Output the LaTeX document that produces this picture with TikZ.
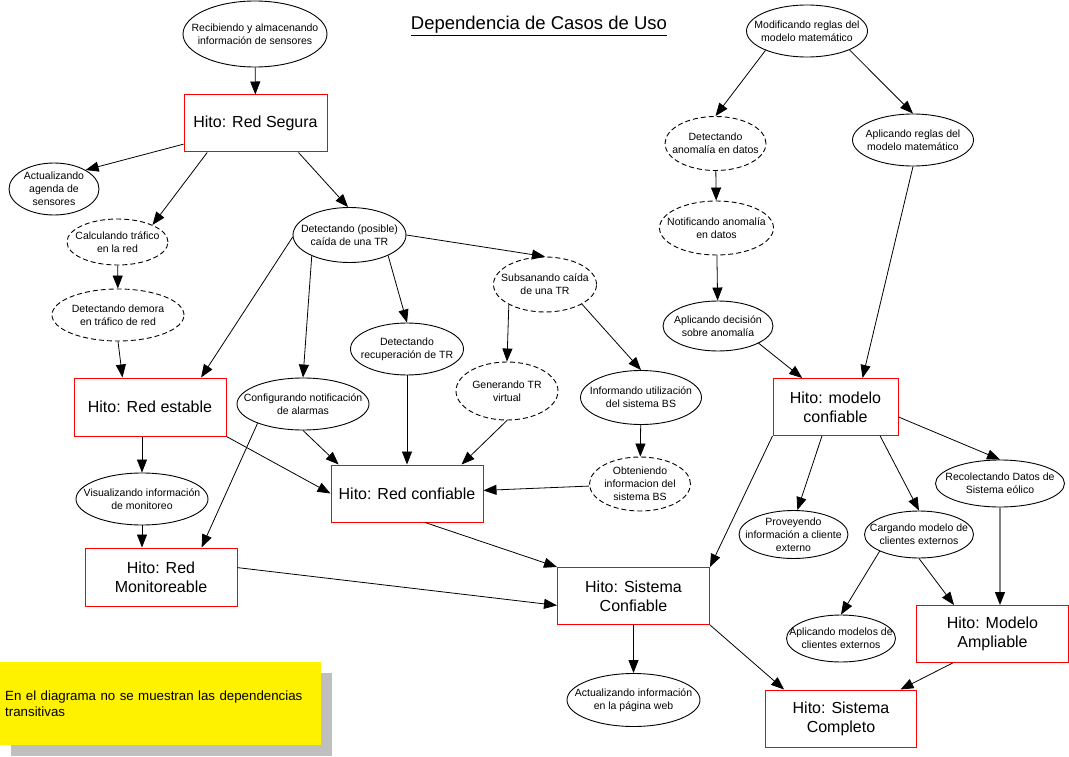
\documentclass[tikz,border=0pt]{standalone}
\usepackage{fontspec}
\setmainfont{Liberation Sans}
\usetikzlibrary{arrows.meta,shapes.geometric,shadows}

\newcommand{\chico}{\fontsize{10.5}{13}\selectfont}
\newcommand{\grande}{\fontsize{16}{19}\selectfont}

\begin{document}
\begin{tikzpicture}[
    x=1pt, y=-1pt,
    >={Triangle[length=13pt,width=10pt]},
    caso/.style={ellipse, draw, line width=0.9pt, inner sep=0pt},
    casoext/.style={caso, dash pattern=on 5pt off 3pt},
    hito/.style={rectangle, draw=red, line width=1pt, align=center,
                 font=\grande, inner sep=2pt},
    nota/.style={fill=yellow, anchor=north west, align=left,
                 font=\fontsize{13.3}{16}\selectfont, inner xsep=5pt,
                 drop shadow={shadow xshift=11pt, shadow yshift=-11pt,
                              fill=black!25, opacity=1}},
    every label/.style={font=\chico, align=center, inner sep=0pt},
    flecha/.style={->, line width=0.8pt}
]

\useasboundingbox (0,0) rectangle (1069,757);

%======================
% Title and note
%======================

\node[font=\fontsize{18.5}{22}\selectfont, anchor=base] (titulo)
  at (539,30) {\underline{Dependencia de Casos de Uso}};

\node[nota, text width=311pt, minimum height=83pt] (nota) at (0,662)
  {En el diagrama no se muestran las dependencias\\transitivas};

%======================
% Milestones
%======================

\node[hito, minimum width=143pt, minimum height=57pt] (segura)    at (255.5,123.5) {Hito: Red Segura};
\node[hito, minimum width=152pt, minimum height=58pt] (estable)   at (150,407)     {Hito: Red estable};
\node[hito, minimum width=152pt, minimum height=58pt] (monit)     at (161,577)     {Hito: Red\\Monitoreable};
\node[hito, minimum width=152pt, minimum height=57pt] (rconf)     at (407,493.5)   {Hito: Red confiable};
\node[hito, minimum width=152pt, minimum height=57pt] (sistconf)  at (633.5,596)   {Hito: Sistema\\Confiable};
\node[hito, minimum width=125pt, minimum height=57pt] (modconf)   at (835.5,407)   {Hito: modelo\\confiable};
\node[hito, minimum width=152pt, minimum height=57pt] (ampliable) at (992.5,634)   {Hito: Modelo\\Ampliable};
\node[hito, minimum width=151pt, minimum height=57pt] (completo)  at (841,718.5)   {Hito: Sistema\\Completo};

%======================
% Use cases (left)
%======================

\node[caso, minimum width=144pt, minimum height=66pt,
      label={center:Recibiendo y almacenando\\información de sensores}] (rec) at (255,34) {};
\node[caso, minimum width=90pt, minimum height=52pt,
      label={center:Actualizando\\agenda de\\sensores}] (agenda) at (54,189) {};
\node[casoext, minimum width=101pt, minimum height=46pt,
      label={center:Calculando tráfico\\en la red}] (calc) at (117.5,242) {};
\node[casoext, minimum width=132pt, minimum height=52pt,
      label={center:Detectando demora\\en tráfico de red}] (demora) at (118,315) {};
\node[caso, minimum width=113pt, minimum height=55pt,
      label={center:Detectando (posible)\\caída de una TR}] (caida) at (349.5,235) {};
\node[caso, minimum width=113pt, minimum height=52pt,
      label={center:Detectando\\recuperación de TR}] (recup) at (407,349) {};
\node[casoext, minimum width=103pt, minimum height=55pt,
      label={center:Subsanando caída\\de una TR}] (subsan) at (545,284.5) {};
\node[casoext, minimum width=102pt, minimum height=58pt,
      label={center:Generando TR\\virtual}] (genera) at (507,391) {};
\node[caso, minimum width=121pt, minimum height=54pt,
      label={center:Informando utilización\\del sistema BS}] (informa) at (641,397.5) {};
\node[casoext, minimum width=101pt, minimum height=54pt,
      label={center:Obteniendo\\informacion del\\sistema BS}] (obten) at (640,484) {};
\node[caso, minimum width=132pt, minimum height=52pt,
      label={center:Configurando notificación\\de alarmas}] (config) at (303,404) {};
\node[caso, minimum width=132pt, minimum height=52pt,
      label={center:Visualizando información\\de monitoreo}] (visual) at (142,499) {};
\node[caso, minimum width=133pt, minimum height=53pt,
      label={center:Actualizando información\\en la página web}] (web) at (633.5,700) {};

%======================
% Use cases (right)
%======================

\node[caso, minimum width=121pt, minimum height=52pt,
      label={center:Modificando reglas del\\modelo matemático}] (modif) at (807,31) {};
\node[casoext, minimum width=101pt, minimum height=54pt,
      label={center:Detectando\\anomalía en datos}] (detanom) at (715.5,143.5) {};
\node[caso, minimum width=121pt, minimum height=52pt,
      label={center:Aplicando reglas del\\modelo matemático}] (aplreg) at (913,140) {};
\node[casoext, minimum width=114pt, minimum height=54pt,
      label={center:Notificando anomalía\\en datos}] (notanom) at (716.5,228) {};
\node[caso, minimum width=110pt, minimum height=50pt,
      label={center:Aplicando decisión\\sobre anomalía}] (apldec) at (718,326) {};
\node[caso, minimum width=109pt, minimum height=48pt,
      label={center:Proveyendo\\información a cliente\\externo}] (provee) at (793.5,534.5) {};
\node[caso, minimum width=109pt, minimum height=47pt,
      label={center:Cargando modelo de\\clientes externos}] (cargando) at (919,534.5) {};
\node[caso, minimum width=129pt, minimum height=47pt,
      label={center:Recolectando Datos de\\Sistema eólico}] (recolect) at (1000,483.5) {};
\node[caso, minimum width=109pt, minimum height=47pt,
      label={center:Aplicando modelos de\\clientes externos}] (aplmod) at (841,638.5) {};

%======================
% Arrows (left)
%======================

\draw[flecha] (rec) -- (segura);
\draw[flecha] (segura.196) -- (agenda.31);
\draw[flecha] (segura.211) -- (calc.26);
\draw[flecha] (segura.326) -- (caida.93);
\draw[flecha] (calc) -- (demora);
\draw[flecha] (demora.south) -- (estable.133);
\draw[flecha] (caida.182) -- (estable.30);
\draw[flecha] (caida.209) -- (config.north);
\draw[flecha] (caida.332) -- (recup.north);
\draw[flecha] (caida.east) -- (subsan.north);
\draw[flecha] (subsan.209) -- (genera.north);
\draw[flecha] (subsan.332) -- (informa.north);
\draw[flecha] (informa) -- (obten);
\draw[flecha] (obten) -- (rconf);
\draw[flecha] (recup) -- (rconf);
\draw[flecha] (genera.south) -- (rconf.28);
\draw[flecha] (config.south) -- (rconf.157);
\draw[flecha] (estable.south east) -- (rconf.west);
\draw[flecha] (visual |- estable.south) -- (visual);
\draw[flecha] (visual) -- (visual |- monit.north);
\draw[flecha] (config.203) -- (monit.36);
\draw[flecha] (rconf.302) -- (sistconf.north west);
\draw[flecha] (monit.7) -- (sistconf.187);
\draw[flecha] (sistconf) -- (web);
\draw[flecha] (sistconf.south east) -- (completo.153);

%======================
% Arrows (right)
%======================

\draw[flecha] (modif.205) -- (detanom.north);
\draw[flecha] (modif.336) -- (aplreg.north);
\draw[flecha] (detanom) -- (notanom);
\draw[flecha] (notanom) -- (apldec);
\draw[flecha] (apldec.337) -- (modconf.139);
\draw[flecha] (aplreg.south) -- (modconf.47);
\draw[flecha] (modconf.south west) -- (sistconf.north east);
\draw[flecha] (modconf.245) -- (provee.81);
\draw[flecha] (modconf.327) -- (cargando.north);
\draw[flecha] (modconf.351) -- (recolect.north);
\draw[flecha] (cargando.203) -- (aplmod.north);
\draw[flecha] (cargando.south) -- (ampliable.143);
\draw[line width=1.3pt, black!50, -{Triangle[length=13pt,width=10pt,black]}]
  (recolect) -- (recolect |- ampliable.north);
\draw[flecha] (ampliable.216) -- (completo.26);

\end{tikzpicture}
\end{document}
